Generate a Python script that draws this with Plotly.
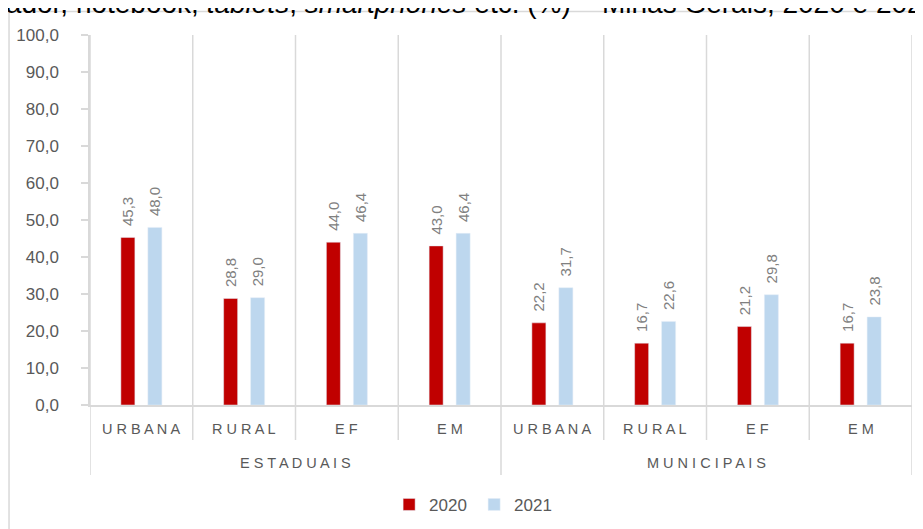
import plotly.graph_objects as go

categories = ["URBANA", "RURAL", "EF", "EM", "URBANA", "RURAL", "EF", "EM"]
groups = ["ESTADUAIS", "MUNICIPAIS"]
group_size = 4
values_2020 = [45.3, 28.8, 44.0, 43.0, 22.2, 16.7, 21.2, 16.7]
values_2021 = [48.0, 29.0, 46.4, 46.4, 31.7, 22.6, 29.8, 23.8]
series_names = ["2020", "2021"]
y_ticks = [0, 10, 20, 30, 40, 50, 60, 70, 80, 90, 100]

GRAY_TXT = "#595959"
LINE = "#d9d9d9"
FONT = "Liberation Sans, Arial, sans-serif"

xs = list(range(len(categories)))
NB = "\u00a0\u00a0"

fig = go.Figure()
fig.add_trace(go.Bar(
    x=xs, y=values_2020, name=series_names[0], marker_color="#C00000",
    texttemplate=NB + "%{y:.1f}", textposition="outside", textangle=-90,
    constraintext="none",
    textfont=dict(size=15, color="#808080", family=FONT), cliponaxis=False,
))
fig.add_trace(go.Bar(
    x=xs, y=values_2021, name=series_names[1], marker_color="#BDD7EE",
    texttemplate=NB + "%{y:.1f}", textposition="outside", textangle=-90,
    constraintext="none",
    textfont=dict(size=15, color="#808080", family=FONT), cliponaxis=False,
))

Y_INNER = -0.0946
Y_GROUP = -0.189

shapes = []
n = len(categories)
for i in range(n + 1):
    bottom = Y_GROUP if i % group_size == 0 else Y_INNER
    shapes.append(dict(type="line", xref="x", yref="paper", x0=i - 0.5, x1=i - 0.5,
                       y0=bottom, y1=1, line=dict(color=LINE, width=1.5), layer="below"))
shapes.append(dict(type="rect", xref="paper", yref="paper", x0=-0.0985, x1=1.03,
                   y0=-0.37, y1=1.0635, line=dict(color=LINE, width=1.5), layer="below"))

annotations = []
for i, c in enumerate(categories):
    annotations.append(dict(x=i, y=-0.0649, xref="x", yref="paper", text=" ".join(c),
                            showarrow=False, font=dict(size=14.5, color=GRAY_TXT, family=FONT),
                            xanchor="center", yanchor="middle"))
for g, name in enumerate(groups):
    annotations.append(dict(x=g * group_size + (group_size - 1) / 2, y=-0.157, xref="x", yref="paper",
                            text=" ".join(name), showarrow=False,
                            font=dict(size=14.5, color=GRAY_TXT, family=FONT),
                            xanchor="center", yanchor="middle"))
annotations.append(dict(x=1.0335, y=1.0375, xref="paper", yref="paper",
                        text="computador, notebook, <i>tablets</i>, <i>smartphones</i> etc. (%) – Minas Gerais, 2020 e 2021",
                        showarrow=False, xanchor="right", yanchor="bottom",
                        font=dict(size=28, color="#000000", family=FONT)))

fig.update_layout(
    width=915, height=521,
    margin=dict(l=82, r=11, t=27, b=124, autoexpand=False),
    paper_bgcolor="white", plot_bgcolor="white",
    separators=",.",
    barmode="group", bargap=0.4745, bargroupgap=0.4815,
    showlegend=True,
    legend=dict(orientation="h", x=0.4673, xanchor="center", y=-0.27, yanchor="middle",
                font=dict(size=17, color=GRAY_TXT, family=FONT), itemclick=False,
                entrywidth=40, itemwidth=30),
    xaxis=dict(range=[-0.5, n - 0.5], showticklabels=False, showgrid=False, zeroline=False,
               showline=True, linecolor=LINE, linewidth=1.5, ticks="", automargin=False),
    yaxis=dict(range=[0, 100], tickvals=y_ticks, tickformat=".1f", showgrid=False, zeroline=False,
               showline=True, linecolor=LINE, linewidth=1.5, ticks="outside", ticklen=7,
               tickcolor=LINE, tickwidth=1.5, ticklabelstandoff=19, automargin=False,
               tickfont=dict(size=17, color=GRAY_TXT, family=FONT)),
    shapes=shapes, annotations=annotations,
    font=dict(family=FONT),
)

fig.write_html("out.html")
